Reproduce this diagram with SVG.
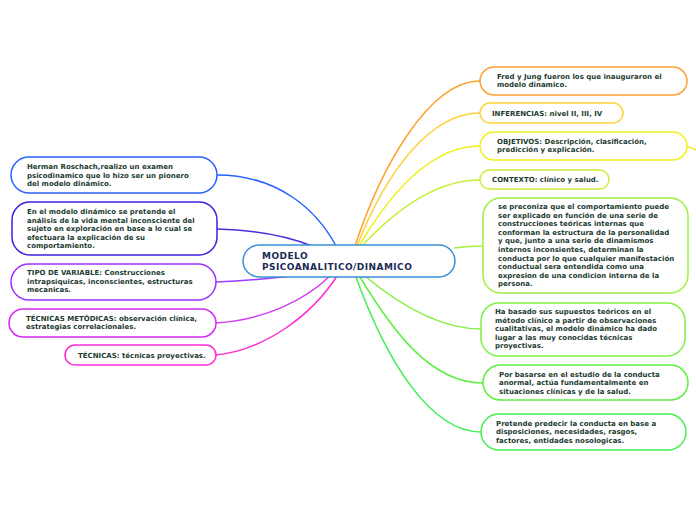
<svg xmlns="http://www.w3.org/2000/svg" width="696" height="520" viewBox="0 0 696 520">
<style>
.n{fill:#fff;stroke-width:1.5}
.t{font-family:"DejaVu Sans",Verdana,sans-serif;font-weight:bold;font-size:7px;fill:#1d3b30}
.c{font-family:"DejaVu Sans",Verdana,sans-serif;font-weight:bold;font-size:9px;letter-spacing:0.45px;fill:#1b2a55}
.l{fill:none;stroke-width:1.5}
</style>
<rect width="696" height="520" fill="#fff"/>
<g id="connectors">
<path class="l" stroke="#2962ff" d="M217,175 C280,175 318,212 336,246"/>
<path class="l" stroke="#4a2ee0" d="M217,229 C258,230 290,237 312,246"/>
<path class="l" stroke="#9b3cff" d="M216,282 C242,281 265,279 292,276"/>
<path class="l" stroke="#d23cf0" d="M216,323 C265,320 305,300 330,276"/>
<path class="l" stroke="#ff2bd0" d="M216,355 C265,350 312,315 337,276"/>
<path class="l" stroke="#ffa030" d="M355,246 C380,170 428,81 480,81"/>
<path class="l" stroke="#ffd23a" d="M357,246 C386,172 430,113 480,113"/>
<path class="l" stroke="#f0f020" d="M359,246 C392,190 432,146 480,146"/>
<path class="l" stroke="#f0f020" d="M687,146 L696,150"/>
<path class="l" stroke="#c4f03a" d="M362,246 C400,205 440,180 480,180"/>
<path class="l" stroke="#a8f040" d="M454,248 C465,247 472,246 483,246"/>
<path class="l" stroke="#84f040" d="M366,277 C400,305 440,329 481,329"/>
<path class="l" stroke="#5ef040" d="M360,277 C392,330 430,383 483,383"/>
<path class="l" stroke="#40f050" d="M356,277 C386,360 430,432 481,432"/>
</g>
<g id="center">
<rect class="n" x="243" y="245" width="212" height="32" rx="16" stroke="#3a8fd6"/>
<text class="c" x="262" y="259">MODELO</text>
<text class="c" x="262" y="270">PSICOANALITICO/DINAMICO</text>
</g>
<g id="herman">
<rect class="n" x="11" y="157" width="206" height="36" rx="18" stroke="#2962ff"/>
<text class="t" x="27" y="169">Herman Roschach,realizo un examen</text>
<text class="t" x="27" y="177.5">psicodinamico que lo hizo ser un pionero</text>
<text class="t" x="27" y="186">del modelo dinámico.</text>
</g>
<g id="modelo-dinamico">
<rect class="n" x="12" y="202" width="205" height="53" rx="18" stroke="#3d1fe0"/>
<text class="t" x="27" y="214">En el modelo dinámico se pretende el</text>
<text class="t" x="27" y="222.5">análisis de la vida mental inconsciente del</text>
<text class="t" x="27" y="231">sujeto en exploración en base a lo cual se</text>
<text class="t" x="27" y="239.5">efectuara la explicación de su</text>
<text class="t" x="27" y="248">comportamiento.</text>
</g>
<g id="tipo-variable">
<rect class="n" x="11" y="264" width="205" height="36" rx="18" stroke="#9b30ff"/>
<text class="t" x="27" y="275">TIPO DE VARIABLE: Construcciones</text>
<text class="t" x="27" y="283.5">intrapsiquicas, inconscientes, estructuras</text>
<text class="t" x="27" y="292">mecanicas.</text>
</g>
<g id="tecnicas-metodicas">
<rect class="n" x="9" y="309" width="207" height="28" rx="14" stroke="#d42bf0"/>
<text class="t" x="26" y="320.5">TÉCNICAS METÓDICAS: observación clínica,</text>
<text class="t" x="26" y="329">estrategias correlacionales.</text>
</g>
<g id="tecnicas">
<rect class="n" x="65" y="345" width="151" height="20" rx="10" stroke="#ff2bd6"/>
<text class="t" x="78" y="357.5">TÉCNICAS: técnicas proyectivas.</text>
</g>
<g id="fred-jung">
<rect class="n" x="480" y="67" width="207" height="28" rx="14" stroke="#ffa030"/>
<text class="t" x="497" y="78.5">Fred y Jung fueron los que inauguraron el</text>
<text class="t" x="497" y="87">modelo dinamico.</text>
</g>
<g id="inferencias">
<rect class="n" x="480" y="103" width="143" height="20" rx="10" stroke="#ffd23a"/>
<text class="t" x="492" y="115.5">INFERENCIAS: nivel II, III, IV</text>
</g>
<g id="objetivos">
<rect class="n" x="480" y="132" width="207" height="28" rx="14" stroke="#f0f020"/>
<text class="t" x="497" y="143.5">OBJETIVOS: Descripción, clasificación,</text>
<text class="t" x="497" y="152">predicción y explicación.</text>
</g>
<g id="contexto">
<rect class="n" x="480" y="170" width="129" height="19" rx="9.5" stroke="#c8f03a"/>
<text class="t" x="492" y="182">CONTEXTO: clínico y salud.</text>
</g>
<g id="preconiza">
<rect class="n" x="483" y="198" width="205" height="95" rx="18" stroke="#a0f040"/>
<text class="t" x="498" y="209">se preconiza que el comportamiento puede</text>
<text class="t" x="498" y="217.6">ser explicado en función de una serie de</text>
<text class="t" x="498" y="226.2">construcciones teóricas internas que</text>
<text class="t" x="498" y="234.8">conforman la estructura de la personalidad</text>
<text class="t" x="498" y="243.4">y que, junto a una serie de dinamismos</text>
<text class="t" x="498" y="252">internos inconsientes, determinan la</text>
<text class="t" x="498" y="260.6">conducta por lo que cualquier manifestación</text>
<text class="t" x="498" y="269.2">conductual sera entendida como una</text>
<text class="t" x="498" y="277.8">expresion de una condicion interna de la</text>
<text class="t" x="498" y="286.4">persona.</text>
</g>
<g id="ha-basado">
<rect class="n" x="481" y="303" width="204" height="53" rx="18" stroke="#7ef040"/>
<text class="t" x="495" y="314">Ha basado sus supuestos teóricos en el</text>
<text class="t" x="495" y="322.6">método clínico a partir de observaciones</text>
<text class="t" x="495" y="331.2">cualitativas, el modelo dinámico ha dado</text>
<text class="t" x="495" y="339.8">lugar a las muy conocidas técnicas</text>
<text class="t" x="495" y="348.4">proyectivas.</text>
</g>
<g id="por-basarse">
<rect class="n" x="483" y="365" width="205" height="35" rx="17.5" stroke="#5ef040"/>
<text class="t" x="499" y="376.5">Por basarse en el estudio de la conducta</text>
<text class="t" x="499" y="385">anormal, actúa fundamentalmente en</text>
<text class="t" x="499" y="393.5">situaciones clínicas y de la salud.</text>
</g>
<g id="pretende">
<rect class="n" x="481" y="414" width="205" height="36" rx="18" stroke="#40f050"/>
<text class="t" x="496" y="425.5">Pretende predecir la conducta en base a</text>
<text class="t" x="496" y="434">disposiciones, necesidades, rasgos,</text>
<text class="t" x="496" y="442.5">factores, entidades nosologicas.</text>
</g>
</svg>
